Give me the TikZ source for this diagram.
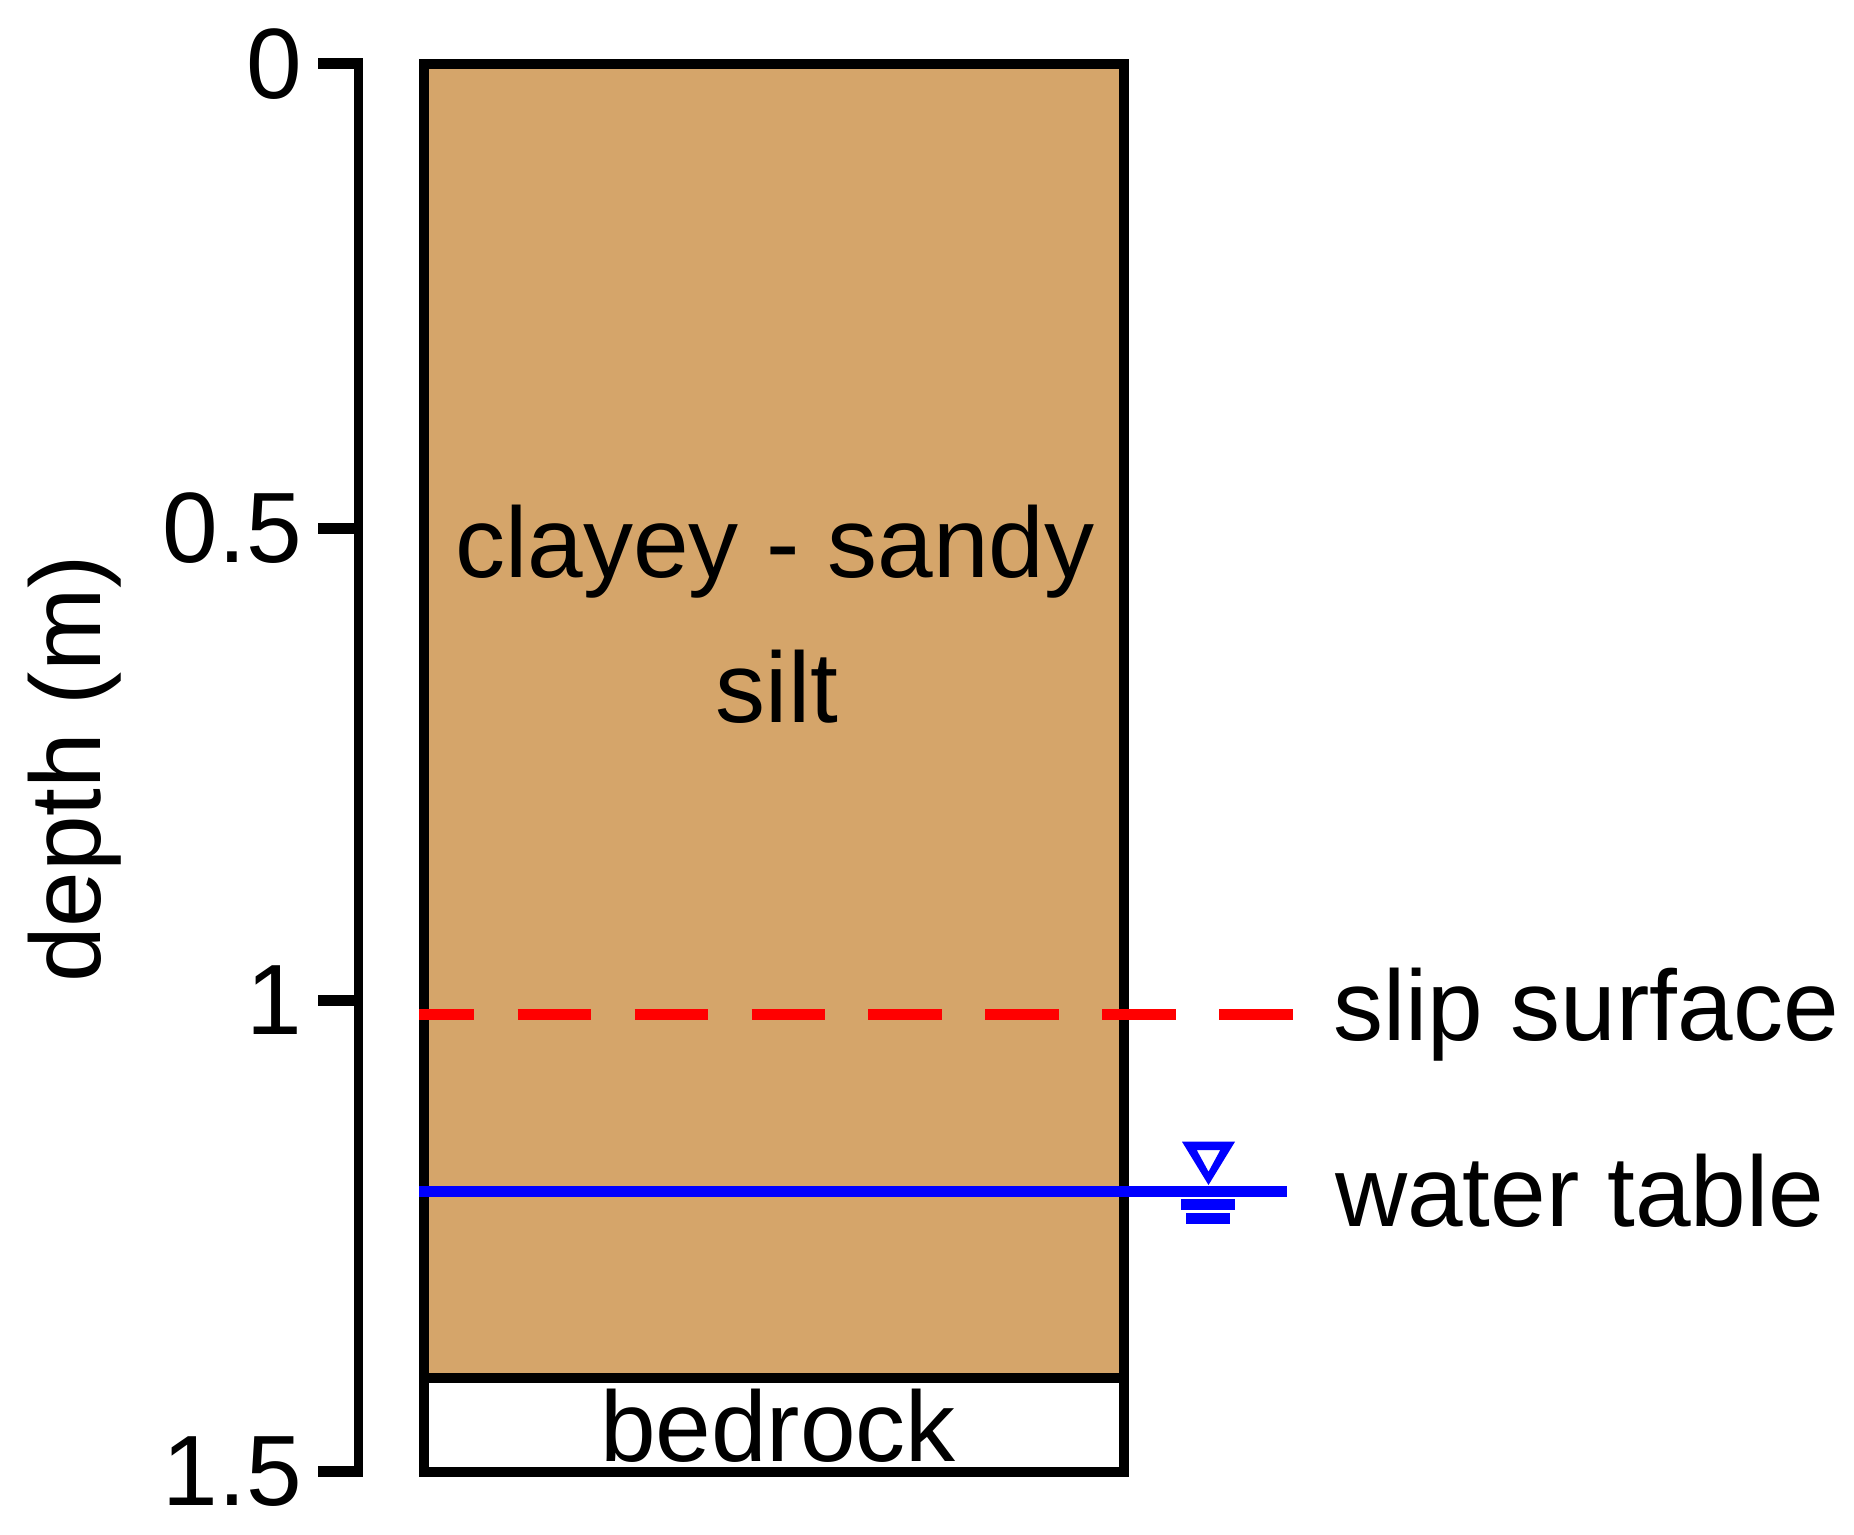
\documentclass[tikz,border=0pt]{standalone}
\usepackage{fontspec}
\setmainfont{Liberation Sans}
\definecolor{soil}{RGB}{213,165,106}
\begin{document}
\begin{tikzpicture}[x=0.5pt,y=-0.5pt,
  lbl/.style={font=\fontsize{50pt}{60pt}\selectfont, inner sep=0pt, outer sep=0pt},
  ticklbl/.style={lbl, anchor=east},
  axisline/.style={line width=4.5pt, line cap=butt},
  tickline/.style={line width=5.5pt, line cap=butt},
  boxline/.style={line width=5pt, line join=miter},
  slipline/.style={red, line width=5.5pt, line cap=butt, dash pattern=on 36.75pt off 21.7pt, dash phase=9.25pt},
  wtline/.style={blue, line width=5.5pt, line cap=butt}]
\fill[white] (0,0) rectangle (1854,1535);
\useasboundingbox (0,0) rectangle (1854,1535);

% soil column
\fill[soil] (424,64) rectangle (1123.5,1378);
\draw[line width=4.75pt] (424,1378) -- (1123.5,1378);
\draw[boxline] (424,64) rectangle (1123.5,1471.7);

% depth axis
\coordinate (axtop) at (358.5,58.5);
\coordinate (axbot) at (358.5,1477);
\draw[axisline] (axtop) -- (axbot);
\foreach \y/\t/\n in {64/0/a, 528.5/0.5/b, 1000/1/c, 1471.5/1.5/d}{
  \draw[tickline] (318,\y) -- (363,\y);
  \node[ticklbl] (tick\n) at (302,\y) {\t};
}
\node[lbl, anchor=base, rotate=90] (ylab) at (100,769) {depth (m)};

% labels in column
\node[lbl, anchor=base] (clay) at (775,578) {clayey - sandy};
\node[lbl, anchor=base] (silt) at (777,722) {silt};
\node[lbl, anchor=base] (bed) at (778,1461) {bedrock};

% slip surface
\coordinate (slipL) at (419.3,1014);
\coordinate (slipR) at (1292.7,1014);
\draw[slipline] (slipL) -- (slipR);
\node[lbl, anchor=base west] (slip) at (1333,1040) {slip surface};

% water table
\coordinate (wtL) at (419.3,1191);
\coordinate (wtR) at (1286.7,1191);
\draw[wtline] (wtL) -- (wtR);
\fill[blue, even odd rule] (1182,1141.7) -- (1235,1141.7) -- (1208.5,1185) -- cycle
  (1196.7,1150) -- (1220.3,1150) -- (1208.5,1171.7) -- cycle;
\fill[blue] (1180.7,1199) rectangle (1235,1210);
\fill[blue] (1186,1213) rectangle (1230,1224);
\node[lbl, anchor=base west] (wt) at (1335,1226) {water table};
\end{tikzpicture}
\end{document}
